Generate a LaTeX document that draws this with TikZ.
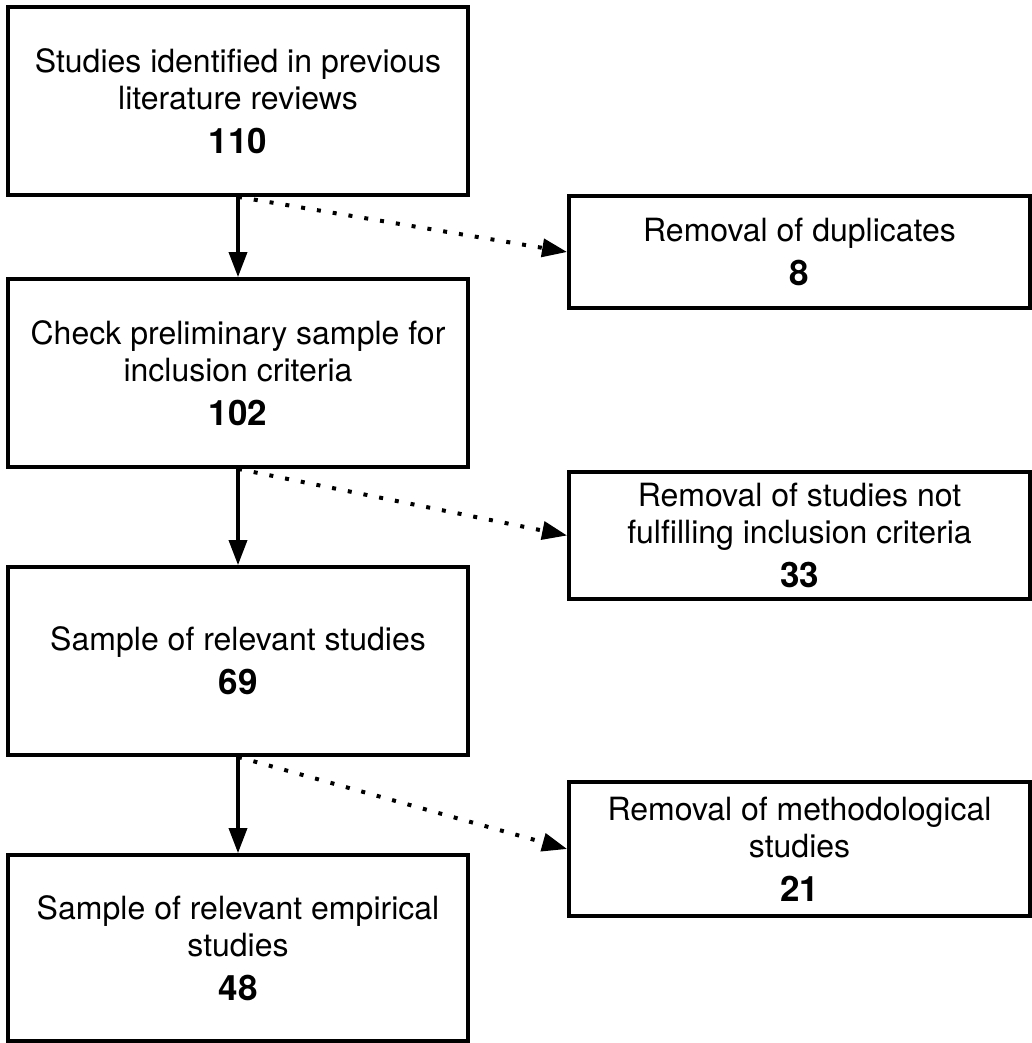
\documentclass[tikz,border=0pt]{standalone}
\usepackage{fontspec}
\setmainfont{TeX Gyre Heros}
\usetikzlibrary{arrows.meta}

\tikzset{
  stepbox/.style={draw,line width=3.8pt,minimum width=460pt,minimum height=188pt,
    align=center,inner sep=0pt,font=\fontsize{32}{37}\selectfont},
  cutbox/.style={stepbox,minimum width=461pt},
  flow/.style={line width=3.6pt,-{Triangle[length=25pt,width=18pt]}},
  skip/.style={flow,line width=4pt,dash pattern=on 4pt off 12pt},
}
\newcommand{\cnt}[1]{{\fontsize{35}{42}\selectfont\bfseries #1}}

\begin{document}
\begin{tikzpicture}[x=1pt,y=-1pt]
  \useasboundingbox (0,0) rectangle (1032,1043);
  \path (238,101) node[stepbox] (s1) {Studies identified in previous\\literature reviews\\[7pt]\cnt{110}}
  (238,373) node[stepbox] (s2) {Check preliminary sample for\\inclusion criteria\\[7pt]\cnt{102}}
  (238,661) node[stepbox] (s3) {Sample of relevant studies\\[7pt]\cnt{69}}
  (238,948) node[stepbox,minimum height=186pt] (s4) {Sample of relevant empirical\\studies\\[7pt]\cnt{48}};
  \path (799.5,252) node[cutbox,minimum height=112pt] (r1) {Removal of duplicates\\[7pt]\cnt{8}}
  (799.5,535.5) node[cutbox,minimum height=127pt] (r2) {Removal of studies not\\fulfilling inclusion criteria\\[7pt]\cnt{33}}
  (799.5,849) node[cutbox,minimum height=134pt] (r3) {Removal of methodological\\studies\\[7pt]\cnt{21}};
  \draw[flow] (s1) -- (s2);
  \draw[flow] (s2) -- (s3);
  \draw[flow] (s3) -- (s4);
  \draw[skip] (s1.south) -- (r1.west);
  \draw[skip] (s2.south) -- (r2.west);
  \draw[skip] (s3.south) -- (r3.west);
\end{tikzpicture}
\end{document}
